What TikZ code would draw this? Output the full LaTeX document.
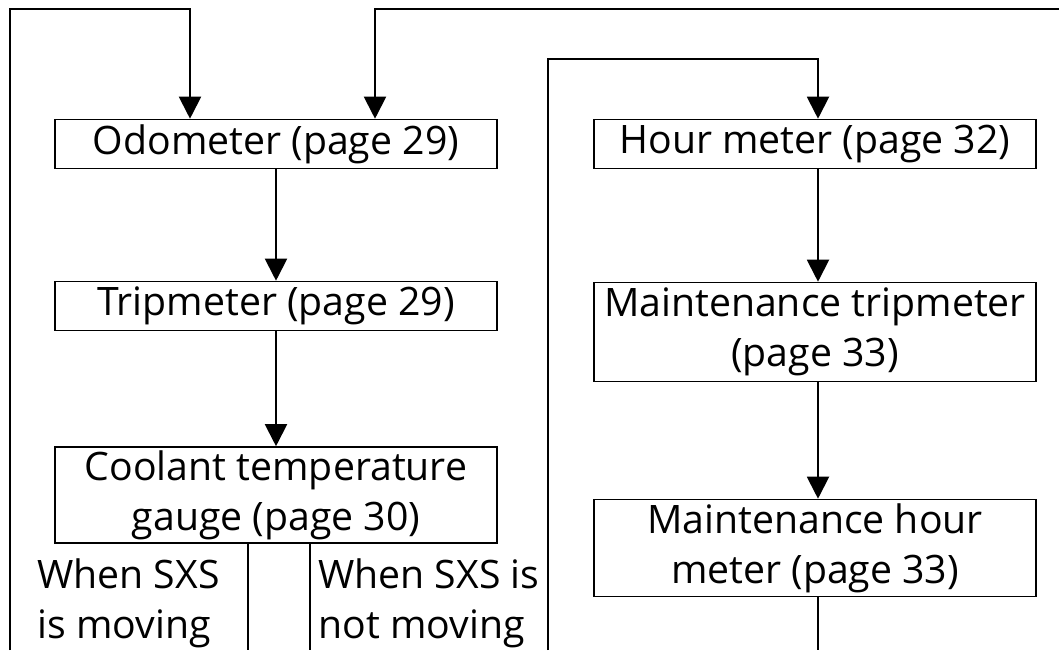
\documentclass[tikz,border=0pt]{standalone}
\usepackage{fontspec}
\setmainfont{Open Sans}
\usetikzlibrary{arrows.meta}
\begin{document}
\begin{tikzpicture}[x=0.5pt, y=-0.5pt,
  every node/.style={font=\fontsize{19.6}{25}\selectfont, inner sep=0pt},
  meterbox/.style={draw, line width=0.8pt, minimum width=221pt, align=center},
  flow/.style={line width=1pt, -{Triangle[width=11pt,length=11pt]}},
  wire/.style={line width=1pt}]
  % Fix the frame
  \useasboundingbox (0,0) rectangle (1059,650);

  % Left column
  \node[meterbox, minimum height=24.5pt] (odo) at (276,144) {Odometer (page 29)};
  \node[meterbox, minimum height=24.5pt] (trip) at (276,306) {Tripmeter (page 29)};
  \node[meterbox, minimum height=48pt] (cool) at (276,495) {Coolant temperature\\gauge (page 30)};

  % Right column
  \node[meterbox, minimum height=24.5pt] (hour) at (815,144) {Hour meter (page 32)};
  \node[meterbox, minimum height=49.5pt] (mtrip) at (815,332) {Maintenance tripmeter\\(page 33)};
  \node[meterbox, minimum height=48.5pt] (mhour) at (815,548) {Maintenance hour\\meter (page 33)};

  % Conditions below the gauge
  \node[anchor=west, align=left] (moving) at (37,603) {When SXS\\is moving};
  \node[anchor=west, align=left] (stopped) at (318,603) {When SXS is\\not moving};

  % Loose ends of the loops
  \coordinate (lin) at (10,650);
  \coordinate (ltop) at (190,9);
  \coordinate (rin) at (1059,9);
  \coordinate (rtop) at (375,9);
  \coordinate (hin) at (548,650);
  \coordinate (htop) at (818,59);
  \coordinate (cl) at (248,650);
  \coordinate (cr) at (310,650);
  \coordinate (mout) at (818,650);

  % Loops back to the top
  \draw[flow] (lin) |- (ltop) -- (ltop |- odo.north);
  \draw[flow] (rin) -- (rtop) -- (rtop |- odo.north);
  \draw[flow] (hin) |- (htop) -- (htop |- hour.north);

  % Down the columns
  \draw[flow] (odo.south) -- (trip.north);
  \draw[flow] (trip.south) -- (cool.north);
  \draw[flow] (hour.south -| htop) -- (htop |- mtrip.north);
  \draw[flow] (mtrip.south -| htop) -- (htop |- mhour.north);

  % Out at the bottom
  \draw[wire] (cl |- cool.south) -- (cl);
  \draw[wire] (cr |- cool.south) -- (cr);
  \draw[wire] (mhour.south -| mout) -- (mout);
\end{tikzpicture}
\end{document}
